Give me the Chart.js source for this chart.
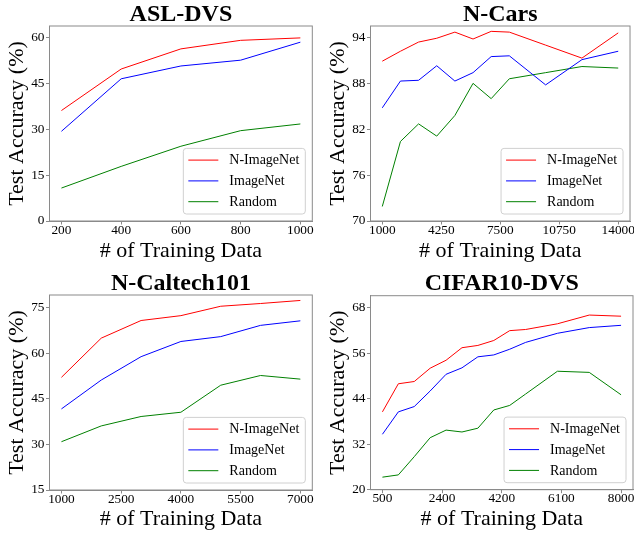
<!DOCTYPE html>
<html><head><meta charset="utf-8">
<script src="https://cdn.jsdelivr.net/npm/chart.js@4/dist/chart.umd.min.js"></script>
<style>
html,body{margin:0;padding:0;background:#fff;width:634px;height:533px;overflow:hidden}
canvas{position:absolute;display:block}
</style></head><body>
<canvas id="c1" width="317" height="266" style="left:0;top:0"></canvas>
<canvas id="c2" width="317" height="266" style="left:317px;top:0"></canvas>
<canvas id="c3" width="317" height="267" style="left:0;top:266px"></canvas>
<canvas id="c4" width="317" height="267" style="left:317px;top:266px"></canvas>
<script>
// ---------- data ----------
const seriesNames = ['N-ImageNet', 'ImageNet', 'Random'];

const aslTitle = 'ASL-DVS';
const aslX = [200, 400, 600, 800, 1000];
const aslNImageNet = [36.2, 49.8, 56.4, 59.2, 60.0];
const aslImageNet = [29.4, 46.6, 50.8, 52.7, 58.6];
const aslRandom = [10.8, 17.9, 24.5, 29.6, 31.8];
const aslXTicks = [200, 400, 600, 800, 1000];
const aslXTickLabels = ['200', '400', '600', '800', '1000'];
const aslYTicks = [0, 15, 30, 45, 60];

const carsTitle = 'N-Cars';
const carsX = [1000, 2000, 3000, 4000, 5000, 6000, 7000, 8000, 10000, 12000, 14000];
const carsNImageNet = [90.9, 92.2, 93.4, 93.9, 94.7, 93.8, 94.8, 94.7, 93.0, 91.3, 94.6];
const carsImageNet = [84.8, 88.3, 88.4, 90.3, 88.3, 89.4, 91.5, 91.6, 87.8, 91.1, 92.2];
const carsRandom = [71.9, 80.4, 82.7, 81.1, 83.8, 88.0, 86.0, 88.6, 89.4, 90.2, 90.0];
const carsXTicks = [1000, 4250, 7500, 10750, 14000];
const carsXTickLabels = ['1000', '4250', '7500', '10750', '14000'];
const carsYTicks = [70, 76, 82, 88, 94];

const caltechTitle = 'N-Caltech101';
const caltechX = [1000, 2000, 3000, 4000, 5000, 6000, 7000];
const caltechNImageNet = [52.1, 65.0, 70.8, 72.4, 75.5, 76.4, 77.4];
const caltechImageNet = [41.7, 51.2, 58.9, 63.9, 65.5, 69.2, 70.7];
const caltechRandom = [30.9, 36.1, 39.2, 40.6, 49.5, 52.7, 51.5];
const caltechXTicks = [1000, 2500, 4000, 5500, 7000];
const caltechXTickLabels = ['1000', '2500', '4000', '5500', '7000'];
const caltechYTicks = [15, 30, 45, 60, 75];

const cifarTitle = 'CIFAR10-DVS';
const cifarX = [500, 1000, 1500, 2000, 2500, 3000, 3500, 4000, 4500, 5000, 6000, 7000, 8000];
const cifarNImageNet = [40.5, 47.9, 48.5, 52.0, 54.1, 57.4, 58.0, 59.3, 61.9, 62.2, 63.7, 66.0, 65.7];
const cifarImageNet = [34.6, 40.5, 41.9, 46.0, 50.4, 52.1, 55.0, 55.5, 57.0, 58.8, 61.2, 62.7, 63.3];
const cifarRandom = [23.3, 23.9, 28.7, 33.7, 35.7, 35.2, 36.2, 41.0, 42.2, 45.2, 51.2, 50.9, 45.0];
const cifarXTicks = [500, 2375, 4250, 6125, 8000];
const cifarXTickLabels = ['500', '2400', '4200', '6100', '8000'];
const cifarYTicks = [20, 32, 44, 56, 68];

const xAxisTitle = '# of Training Data';
const yAxisTitle = 'Test Accuracy (%)';

// ---------- style ----------
const FONT = 'Liberation Serif';
const colors = ['#ff0000', '#0000ff', '#008000'];
const frameColor = '#8a8a8a';
Chart.defaults.font.family = FONT;
Chart.defaults.color = '#000';

const decorPlugin = {
  id: 'decor',
  afterDatasetsDraw(chart, args, opts) {
    const ctx = chart.ctx, a = chart.chartArea;
    ctx.save();
    // frame
    ctx.strokeStyle = frameColor;
    ctx.lineWidth = 1;
    ctx.strokeRect(a.left, a.top, a.right - a.left, a.bottom - a.top);
    // title
    ctx.fillStyle = '#000';
    ctx.font = 'bold 24px "' + FONT + '"';
    ctx.textAlign = 'center';
    ctx.textBaseline = 'alphabetic';
    ctx.fillText(opts.title, (a.left + a.right) / 2, a.top - 5.5);
    // legend
    ctx.font = '14px "' + FONT + '"';
    const ds = chart.data.datasets;
    let tw = 0;
    ds.forEach(d => { tw = Math.max(tw, ctx.measureText(d.label).width); });
    const w = 46 + tw + 6, h = 65.6;
    const right = a.right - 7, bottom = a.bottom - 7;
    const left = right - w, top = bottom - h;
    const r = 3;
    ctx.beginPath();
    ctx.moveTo(left + r, top);
    ctx.arcTo(right, top, right, bottom, r);
    ctx.arcTo(right, bottom, left, bottom, r);
    ctx.arcTo(left, bottom, left, top, r);
    ctx.arcTo(left, top, right, top, r);
    ctx.closePath();
    ctx.fillStyle = 'rgba(255,255,255,0.8)';
    ctx.fill();
    ctx.strokeStyle = '#d0d0d0';
    ctx.stroke();
    ctx.textAlign = 'left';
    ctx.textBaseline = 'middle';
    ds.forEach((d, i) => {
      const y = top + 11.7 + i * 20.8;
      ctx.strokeStyle = d.borderColor;
      ctx.lineWidth = 1;
      ctx.beginPath();
      ctx.moveTo(left + 5, y);
      ctx.lineTo(left + 35, y);
      ctx.stroke();
      ctx.fillStyle = '#000';
      ctx.fillText(d.label, left + 46, y + 0.5);
    });
    ctx.restore();
  }
};

function makeChart(id, p) {
  const canvas = document.getElementById(id);
  const W = canvas.width, H = canvas.height;
  const datasets = p.series.map((s, i) => ({
    label: seriesNames[i],
    data: p.x.map((x, j) => ({ x: x, y: s[j] })),
    borderColor: colors[i],
    backgroundColor: colors[i],
    borderWidth: 1,
    pointRadius: 0,
    tension: 0,
    fill: false
  }));
  const span = p.x[p.x.length - 1] - p.x[0];
  new Chart(canvas, {
    type: 'line',
    data: { datasets: datasets },
    plugins: [decorPlugin],
    options: {
      responsive: false,
      animation: false,
      devicePixelRatio: 1,
      layout: { padding: { left: 0, top: p.box.top, right: W - p.box.right, bottom: 0 } },
      plugins: {
        legend: { display: false },
        tooltip: { enabled: false },
        title: { display: false },
        decor: { title: p.title }
      },
      scales: {
        x: {
          type: 'linear',
          min: p.x[0] - 0.05 * span,
          max: p.x[p.x.length - 1] + 0.05 * span,
          afterBuildTicks: sc => { sc.ticks = p.xTicks.map(v => ({ value: v })); },
          afterFit: sc => { sc.height = H - p.box.bottom; },
          grid: { display: true, drawOnChartArea: false, drawTicks: true, tickLength: 3.5, color: frameColor },
          border: { display: true, color: frameColor },
          ticks: {
            font: { size: 13.3, lineHeight: 1 },
            color: '#000',
            padding: -1,
            maxRotation: 0,
            autoSkip: false,
            callback: (v, i) => p.xLabels[i]
          },
          title: {
            display: true,
            text: xAxisTitle,
            font: { size: 22 },
            color: '#000',
            padding: { top: 0, bottom: p.xTitleBottom }
          }
        },
        y: {
          type: 'linear',
          min: p.yMin,
          max: p.yMax,
          afterBuildTicks: sc => { sc.ticks = p.yTicks.map(v => ({ value: v })); },
          afterFit: sc => { sc.width = p.box.left; },
          grid: { display: true, drawOnChartArea: false, drawTicks: true, tickLength: 3.5, color: frameColor },
          border: { display: true, color: frameColor },
          ticks: {
            font: { size: 13.3 },
            color: '#000',
            padding: 1.5,
            autoSkip: false,
            callback: v => String(v)
          },
          title: {
            display: true,
            text: yAxisTitle,
            font: { size: 22 },
            color: '#000',
            padding: { top: p.box.left - 32.5 - 13.2, bottom: 0 }
          }
        }
      }
    }
  });
}

makeChart('c1', {
  title: aslTitle, x: aslX, series: [aslNImageNet, aslImageNet, aslRandom],
  xTicks: aslXTicks, xLabels: aslXTickLabels, yTicks: aslYTicks,
  yMin: 0, yMax: 63.9,
  box: { left: 49.5, right: 312.3, top: 26, bottom: 221 }, xTitleBottom: 1.8
});
makeChart('c2', {
  title: carsTitle, x: carsX, series: [carsNImageNet, carsImageNet, carsRandom],
  xTicks: carsXTicks, xLabels: carsXTickLabels, yTicks: carsYTicks,
  yMin: 70, yMax: 95.5,
  box: { left: 53.5, right: 313.5, top: 26, bottom: 221 }, xTitleBottom: 1.8
});
makeChart('c3', {
  title: caltechTitle, x: caltechX, series: [caltechNImageNet, caltechImageNet, caltechRandom],
  xTicks: caltechXTicks, xLabels: caltechXTickLabels, yTicks: caltechYTicks,
  yMin: 15, yMax: 79.2,
  box: { left: 49.5, right: 312.3, top: 29, bottom: 224 }, xTitleBottom: 0.8
});
makeChart('c4', {
  title: cifarTitle, x: cifarX, series: [cifarNImageNet, cifarImageNet, cifarRandom],
  xTicks: cifarXTicks, xLabels: cifarXTickLabels, yTicks: cifarYTicks,
  yMin: 20, yMax: 71.1,
  box: { left: 53.5, right: 316, top: 29.7, bottom: 223.7 }, xTitleBottom: 0.8
});
</script>
</body></html>
